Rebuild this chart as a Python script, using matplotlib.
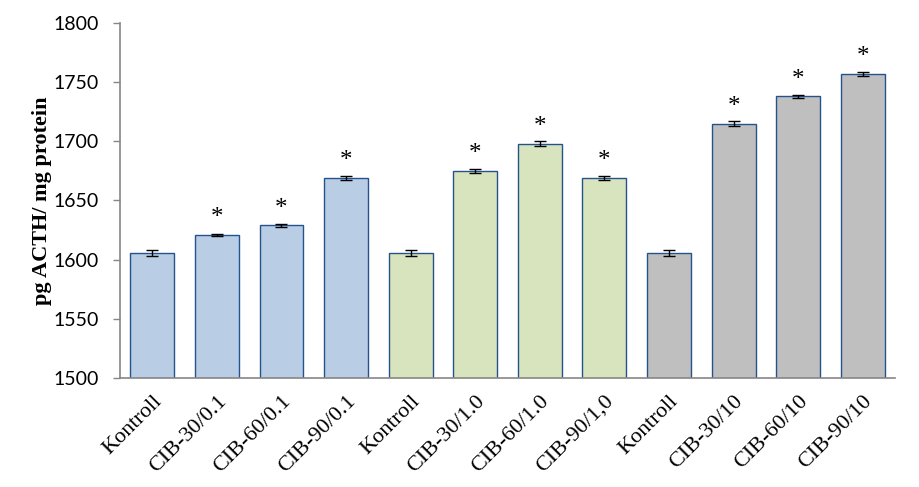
import numpy as np
import matplotlib
matplotlib.use("Agg")
import matplotlib.pyplot as plt

# --- data ---
labels = ["Kontroll", "CIB-30/0.1", "CIB-60/0.1", "CIB-90/0.1",
          "Kontroll", "CIB-30/1.0", "CIB-60/1.0", "CIB-90/1,0",
          "Kontroll", "CIB-30/10", "CIB-60/10", "CIB-90/10"]
values = [1606, 1621, 1629, 1669,
          1606, 1675, 1698, 1669,
          1606, 1715, 1738, 1757]
errors = [2.5, 1.0, 1.5, 1.5,
          2.5, 1.5, 2.0, 2.0,
          2.5, 2.0, 1.5, 1.5]
significant = [False, True, True, True,
               False, True, True, True,
               False, True, True, True]
group_colors = ["#B9CDE5"] * 4 + ["#D7E4BD"] * 4 + ["#BFBFBF"] * 4

edge = "#24528C"
axis_grey = "#868686"

fig = plt.figure(figsize=(9.19, 4.87), dpi=100)
ax = fig.add_axes([0.1306, 0.2238, 0.8433, 0.729])

x = np.arange(len(values))
ax.bar(x, values, width=0.68, bottom=0, color=group_colors,
       edgecolor=edge, linewidth=1.0, zorder=2)
ax.errorbar(x, values, yerr=errors, fmt="none", ecolor="black",
            elinewidth=1.0, capsize=4.5, capthick=1.0, zorder=3)

# significance stars above the error bars
for xi, v, sig in zip(x, values, significant):
    if sig:
        ax.annotate("*", (xi, v), xytext=(0, 4), textcoords="offset points",
                    ha="center", va="bottom", fontsize=18,
                    family="Liberation Serif")

ax.set_xlim(-0.5, len(values) - 0.5)
ax.set_ylim(1500, 1800)
ax.set_yticks(np.arange(1500, 1801, 50))

ax.set_xticks(x)
ax.set_xticklabels(labels, rotation=45, ha="right", va="top",
                   rotation_mode="anchor", family="Liberation Serif",
                   fontsize=16)
ax.tick_params(axis="x", length=0, pad=10)
ax.tick_params(axis="y", length=5, width=1, color=axis_grey, pad=10,
               labelsize=14)
for lab in ax.get_yticklabels():
    lab.set_family("Lato")

ax.set_ylabel("pg ACTH/ mg protein", family="Liberation Serif",
              fontweight="bold", fontsize=16, labelpad=1)

for side in ["top", "right"]:
    ax.spines[side].set_visible(False)
for side in ["left", "bottom"]:
    ax.spines[side].set_color(axis_grey)
    ax.spines[side].set_linewidth(1.2)

fig.savefig("out.png", dpi=100)
